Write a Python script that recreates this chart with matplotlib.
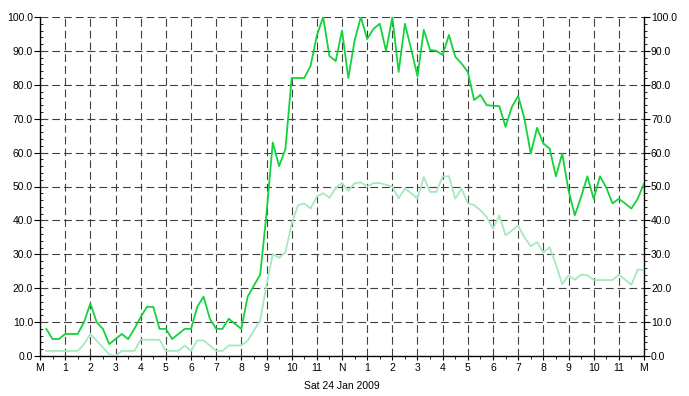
import numpy as np
import matplotlib
matplotlib.use("Agg")
import matplotlib.pyplot as plt
from matplotlib.ticker import MultipleLocator, FormatStrFormatter

# 15-minute samples from 00:15 to 24:00
hours = np.arange(1, 97) * 0.25

bright = [8, 5, 5, 6.5, 6.5, 6.5, 10, 15.5,
          10, 8, 3.5, 5, 6.5, 5, 8, 11.5,
          14.5, 14.5, 8, 8, 5, 6.5, 8, 8,
          14.5, 17.5, 11, 8, 8, 11, 9.5, 8,
          17.5, 20.8, 24, 42, 63, 56, 61, 82,
          82, 82, 85.5, 94.5, 100, 88.5, 87, 96,
          82, 93, 100, 93.5, 96.5, 98, 90, 100,
          83.8, 98, 90.5, 82.5, 96.2, 90.3, 90, 88.8,
          94.7, 88.3, 86.3, 83.8, 75.5, 77, 74, 73.8,
          73.7, 67.6, 73.5, 76.7, 70, 59.7, 67.3, 62.7,
          61.2, 53, 59.7, 48.9, 41.5, 46.9, 53, 46.4,
          53, 49.7, 45, 46.4, 45, 43.5, 46.4, 50.9]

light = [1.5, 1.5, 1.5, 1.5, 1.5, 1.5, 3.5, 6.5,
         4.5, 2.5, 0.5, 0, 1.5, 1.5, 1.5, 4.8,
         4.8, 4.8, 4.8, 1.5, 1.5, 1.5, 3.1, 1.5,
         4.6, 4.6, 3.1, 1.5, 1.5, 3.1, 3.1, 3.1,
         4.5, 7.5, 10.5, 21, 30, 29, 30.5, 39,
         44.5, 45, 43.5, 47, 48, 46.7, 49.5, 51,
         48.7, 51, 51.2, 50, 51, 51, 50.5, 50,
         46.5, 49.4, 48, 46.4, 52.8, 48.4, 48.4, 53,
         53, 46.4, 49.4, 45, 44.5, 43, 41, 37.5,
         41.5, 35.6, 37, 38.5, 35, 32.4, 33.6, 30.5,
         32.1, 27, 21.2, 23.8, 22.5, 24, 23.8, 22.4,
         22.4, 22.4, 22.4, 24, 22.5, 21, 25.5, 25.3]

hour_labels = ["M", "1", "2", "3", "4", "5", "6", "7", "8", "9", "10", "11",
               "N", "1", "2", "3", "4", "5", "6", "7", "8", "9", "10", "11", "M"]
date_label = "Sat 24 Jan 2009"

plt.rcParams['font.family'] = ['Liberation Sans', 'DejaVu Sans']
plt.rcParams['font.size'] = 7.5

fig = plt.figure(figsize=(6.89, 3.96), dpi=100)
ax = fig.add_axes([40 / 689, 40 / 396, 604 / 689, 339 / 396])

ax.plot(hours, light, color='#a6e8bf', lw=1.3, zorder=3)
ax.plot(hours, bright, color='#14d23c', lw=1.3, zorder=4)

ax.set_xlim(0, 24)
ax.set_ylim(0, 100)
ax.set_xticks(np.arange(0, 25))
ax.set_xticklabels(hour_labels)
ax.xaxis.set_minor_locator(MultipleLocator(0.5))
ax.yaxis.set_major_locator(MultipleLocator(10))
ax.yaxis.set_minor_locator(MultipleLocator(2))
ax.yaxis.set_major_formatter(FormatStrFormatter('%.1f'))

ax.grid(True, which='major', color='#404040', linestyle=(0, (7, 3.6)), lw=0.8)
ax.spines['top'].set_visible(False)
for s in ['left', 'right', 'bottom']:
    ax.spines[s].set_linewidth(0.9)

ax.tick_params(axis='x', which='major', direction='out', length=3, pad=2)
ax.tick_params(axis='x', which='minor', direction='out', length=2)
ax.tick_params(axis='y', which='major', direction='out', length=4, pad=1)
ax.tick_params(axis='y', which='minor', direction='in', length=2)

ax2 = ax.twinx()
ax2.set_ylim(0, 100)
ax2.yaxis.set_major_locator(MultipleLocator(10))
ax2.yaxis.set_minor_locator(MultipleLocator(2))
ax2.yaxis.set_major_formatter(FormatStrFormatter('%.1f'))
ax2.tick_params(axis='y', which='major', direction='out', length=4, pad=1)
ax2.tick_params(axis='y', which='minor', direction='out', length=2)
ax2.spines['top'].set_visible(False)

ax.set_xlabel(date_label, labelpad=6)

fig.savefig("out.png", dpi=100)
